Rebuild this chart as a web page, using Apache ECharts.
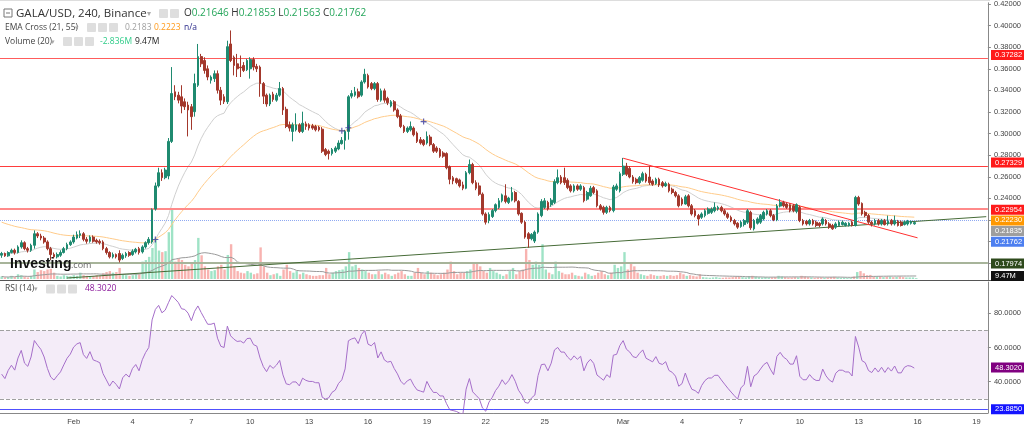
<!DOCTYPE html>
<html><head><meta charset="utf-8">
<script src="https://cdn.jsdelivr.net/npm/echarts@6/dist/echarts.min.js"></script>
<style>html,body{margin:0;padding:0;background:#fff}#c{width:1024px;height:431px}</style>
</head><body><div id="c"></div>
<script>
// ---------- DATA ----------
const firstCandleUTC = Date.UTC(2022, 0, 28, 8, 0); // first 4h candle
const slotCount = 302;                                // candle slots incl. empty future
// [open, close, low, high]
const candles = [
[0.1874,0.1890,0.1850,0.1905],[0.1890,0.1868,0.1859,0.1899],[0.1868,0.1899,0.1859,0.1911],[0.1899,0.1920,0.1890,0.1935],[0.1920,0.1899,0.1880,0.1935],
[0.1899,0.1951,0.1890,0.1966],[0.1951,0.1990,0.1935,0.2012],[0.1990,0.1935,0.1920,0.2003],[0.1935,0.1920,0.1899,0.1951],[0.1920,0.1966,0.1905,0.1981],
[0.1966,0.2073,0.1935,0.2104],[0.2073,0.2052,0.2033,0.2088],[0.2052,0.2033,0.2012,0.2073],[0.2033,0.1997,0.1981,0.2052],[0.1997,0.1935,0.1920,0.2012],
[0.1935,0.1880,0.1829,0.1951],[0.1880,0.1859,0.1844,0.1899],[0.1859,0.1880,0.1844,0.1899],[0.1874,0.1899,0.1859,0.1920],[0.1899,0.1935,0.1890,0.1951],
[0.1935,0.1972,0.1920,0.1990],[0.1972,0.1997,0.1960,0.2012],[0.1997,0.2042,0.1981,0.2064],[0.2033,0.2064,0.2021,0.2094],[0.2058,0.2073,0.2033,0.2104],
[0.2073,0.2021,0.2003,0.2088],[0.2021,0.2003,0.1981,0.2042],[0.2003,0.2042,0.1990,0.2058],[0.2042,0.2003,0.1990,0.2058],[0.2012,0.1997,0.1981,0.2027],
[0.2003,0.1990,0.1972,0.2021],[0.1997,0.1935,0.1920,0.2012],[0.1935,0.1899,0.1880,0.1951],[0.1899,0.1859,0.1844,0.1911],[0.1859,0.1880,0.1844,0.1899],
[0.1880,0.1859,0.1844,0.1890],[0.1890,0.1829,0.1807,0.1920],[0.1844,0.1874,0.1829,0.1890],[0.1868,0.1890,0.1850,0.1905],[0.1899,0.1874,0.1859,0.1911],
[0.1880,0.1911,0.1868,0.1929],[0.1905,0.1929,0.1890,0.1942],[0.1935,0.1899,0.1880,0.1951],[0.1905,0.1951,0.1890,0.1966],[0.1951,0.1990,0.1935,0.2003],
[0.1990,0.2021,0.1972,0.2042],[0.1997,0.2296,0.1981,0.2308],[0.2302,0.2516,0.2287,0.2547],[0.2516,0.2638,0.2501,0.2684],[0.2638,0.2592,0.2562,0.2669],
[0.2592,0.2663,0.2577,0.2684],[0.2608,0.2928,0.2577,0.2959],[0.2928,0.3371,0.2913,0.3616],[0.3387,0.3341,0.3310,0.3448],[0.3356,0.3310,0.3280,0.3387],
[0.3341,0.3255,0.3188,0.3448],[0.3295,0.3249,0.3219,0.3326],[0.3264,0.3219,0.2974,0.3295],[0.3249,0.3157,0.3035,0.3274],[0.3203,0.3463,0.3157,0.3555],
[0.3448,0.3713,0.3432,0.3830],[0.3713,0.3646,0.3616,0.3738],[0.3677,0.3585,0.3555,0.3707],[0.3600,0.3524,0.3494,0.3631],[0.3494,0.3524,0.3463,0.3539],
[0.3509,0.3555,0.3478,0.3585],[0.3555,0.3402,0.3371,0.3585],[0.3402,0.3310,0.3264,0.3432],[0.3341,0.3295,0.3274,0.3365],[0.3295,0.3805,0.3274,0.3860],
[0.3830,0.3677,0.3662,0.3955],[0.3707,0.3631,0.3539,0.3723],[0.3646,0.3600,0.3524,0.3738],[0.3616,0.3610,0.3524,0.3723],[0.3631,0.3585,0.3570,0.3662],
[0.3591,0.3677,0.3579,0.3692],[0.3600,0.3686,0.3509,0.3707],[0.3686,0.3616,0.3585,0.3707],[0.3622,0.3600,0.3570,0.3646],[0.3616,0.3463,0.3341,0.3631],
[0.3463,0.3347,0.3274,0.3478],[0.3356,0.3274,0.3249,0.3371],[0.3274,0.3356,0.3255,0.3371],[0.3365,0.3316,0.3295,0.3387],[0.3310,0.3356,0.3295,0.3377],
[0.3356,0.3417,0.3341,0.3478],[0.3417,0.3219,0.3173,0.3432],[0.3225,0.3066,0.3051,0.3249],[0.3081,0.3051,0.3020,0.3112],[0.3020,0.3081,0.2928,0.3102],
[0.3035,0.3081,0.3020,0.3188],[0.3081,0.3020,0.3005,0.3096],[0.3020,0.3096,0.3005,0.3203],[0.3090,0.3066,0.3035,0.3112],[0.3081,0.3051,0.3029,0.3096],
[0.3072,0.3051,0.3035,0.3090],[0.3066,0.3035,0.3020,0.3081],[0.3060,0.3035,0.3020,0.3072],[0.3041,0.2837,0.2821,0.3060],[0.2852,0.2806,0.2791,0.2867],
[0.2837,0.2815,0.2760,0.2852],[0.2815,0.2852,0.2797,0.2867],[0.2837,0.2867,0.2821,0.2883],[0.2858,0.2913,0.2846,0.2938],[0.2907,0.2938,0.2898,0.2968],
[0.2938,0.3020,0.2852,0.3035],[0.3020,0.3341,0.2944,0.3356],[0.3347,0.3371,0.3326,0.3402],[0.3356,0.3387,0.3341,0.3432],[0.3387,0.3341,0.3326,0.3417],
[0.3356,0.3478,0.3341,0.3494],[0.3478,0.3549,0.3463,0.3600],[0.3539,0.3432,0.3417,0.3555],[0.3463,0.3417,0.3402,0.3478],[0.3417,0.3463,0.3402,0.3478],
[0.3463,0.3316,0.3295,0.3478],[0.3310,0.3396,0.3295,0.3417],[0.3396,0.3310,0.3286,0.3417],[0.3326,0.3286,0.3264,0.3341],[0.3255,0.3295,0.3243,0.3310],
[0.3295,0.3219,0.3203,0.3310],[0.3219,0.3157,0.3142,0.3234],[0.3164,0.3066,0.3051,0.3182],[0.3066,0.3020,0.3005,0.3081],[0.3020,0.3051,0.3005,0.3066],
[0.3035,0.3066,0.3020,0.3112],[0.3051,0.2989,0.2974,0.3066],[0.3005,0.2928,0.2913,0.3020],[0.2944,0.2913,0.2898,0.2968],[0.2938,0.2898,0.2883,0.2950],
[0.2913,0.2974,0.2898,0.3020],[0.2968,0.2898,0.2883,0.2989],[0.2898,0.2837,0.2821,0.2913],[0.2867,0.2837,0.2821,0.2883],[0.2852,0.2791,0.2776,0.2867],
[0.2821,0.2791,0.2776,0.2837],[0.2815,0.2684,0.2669,0.2827],[0.2693,0.2577,0.2531,0.2705],[0.2592,0.2562,0.2531,0.2608],[0.2583,0.2547,0.2531,0.2592],
[0.2571,0.2516,0.2501,0.2583],[0.2525,0.2494,0.2476,0.2555],[0.2494,0.2638,0.2485,0.2653],[0.2638,0.2714,0.2623,0.2760],[0.2714,0.2546,0.2531,0.2730],
[0.2546,0.2494,0.2476,0.2568],[0.2516,0.2439,0.2424,0.2546],[0.2439,0.2256,0.2241,0.2455],[0.2256,0.2180,0.2158,0.2271],[0.2195,0.2250,0.2170,0.2271],
[0.2232,0.2287,0.2219,0.2302],[0.2287,0.2342,0.2271,0.2354],[0.2317,0.2378,0.2302,0.2403],[0.2378,0.2433,0.2363,0.2445],[0.2424,0.2372,0.2354,0.2531],
[0.2363,0.2403,0.2348,0.2415],[0.2384,0.2455,0.2372,0.2506],[0.2455,0.2378,0.2363,0.2470],[0.2372,0.2256,0.2241,0.2384],[0.2262,0.2180,0.2164,0.2271],
[0.2180,0.2042,0.2027,0.2195],[0.2073,0.2027,0.1944,0.2088],[0.2027,0.2067,0.2012,0.2079],[0.2005,0.2088,0.1987,0.2103],[0.2088,0.2256,0.2073,0.2271],
[0.2241,0.2372,0.2226,0.2393],[0.2317,0.2378,0.2302,0.2403],[0.2363,0.2302,0.2287,0.2378],[0.2342,0.2384,0.2323,0.2403],[0.2363,0.2555,0.2348,0.2577],
[0.2546,0.2592,0.2531,0.2668],[0.2598,0.2546,0.2531,0.2616],[0.2592,0.2546,0.2525,0.2684],[0.2568,0.2500,0.2485,0.2586],[0.2516,0.2470,0.2455,0.2531],
[0.2470,0.2516,0.2455,0.2531],[0.2516,0.2485,0.2470,0.2531],[0.2485,0.2516,0.2470,0.2531],[0.2500,0.2378,0.2363,0.2516],[0.2393,0.2455,0.2378,0.2470],
[0.2424,0.2494,0.2415,0.2516],[0.2500,0.2455,0.2439,0.2516],[0.2470,0.2332,0.2317,0.2485],[0.2332,0.2302,0.2287,0.2348],[0.2317,0.2271,0.2250,0.2332],
[0.2271,0.2317,0.2256,0.2332],[0.2317,0.2287,0.2271,0.2332],[0.2287,0.2506,0.2271,0.2525],[0.2485,0.2516,0.2470,0.2537],[0.2470,0.2629,0.2455,0.2647],
[0.2623,0.2699,0.2607,0.2775],[0.2699,0.2623,0.2607,0.2729],[0.2678,0.2598,0.2586,0.2699],[0.2598,0.2555,0.2537,0.2616],[0.2577,0.2546,0.2531,0.2592],
[0.2546,0.2592,0.2531,0.2607],[0.2568,0.2629,0.2555,0.2647],[0.2623,0.2561,0.2546,0.2638],[0.2598,0.2546,0.2525,0.2699],[0.2561,0.2531,0.2516,0.2577],
[0.2537,0.2577,0.2525,0.2592],[0.2577,0.2525,0.2506,0.2592],[0.2546,0.2516,0.2500,0.2561],[0.2516,0.2537,0.2506,0.2555],[0.2531,0.2470,0.2455,0.2546],
[0.2485,0.2455,0.2439,0.2500],[0.2455,0.2424,0.2409,0.2470],[0.2424,0.2332,0.2317,0.2439],[0.2393,0.2348,0.2332,0.2409],[0.2348,0.2415,0.2342,0.2433],
[0.2424,0.2332,0.2317,0.2439],[0.2332,0.2256,0.2241,0.2348],[0.2286,0.2241,0.2225,0.2302],[0.2241,0.2210,0.2149,0.2256],[0.2225,0.2256,0.2210,0.2271],
[0.2241,0.2286,0.2225,0.2302],[0.2262,0.2302,0.2250,0.2317],[0.2271,0.2302,0.2256,0.2317],[0.2286,0.2317,0.2271,0.2363],[0.2302,0.2317,0.2286,0.2332],
[0.2317,0.2286,0.2271,0.2332],[0.2286,0.2256,0.2241,0.2302],[0.2256,0.2225,0.2210,0.2271],[0.2225,0.2195,0.2180,0.2241],[0.2195,0.2164,0.2149,0.2210],
[0.2170,0.2134,0.2118,0.2180],[0.2140,0.2180,0.2128,0.2195],[0.2158,0.2195,0.2140,0.2210],[0.2180,0.2286,0.2164,0.2302],[0.2271,0.2128,0.2109,0.2286],
[0.2118,0.2195,0.2103,0.2210],[0.2170,0.2210,0.2158,0.2225],[0.2180,0.2241,0.2164,0.2256],[0.2210,0.2271,0.2195,0.2286],[0.2256,0.2286,0.2241,0.2302],
[0.2286,0.2241,0.2225,0.2302],[0.2241,0.2201,0.2189,0.2256],[0.2201,0.2329,0.2189,0.2348],[0.2329,0.2363,0.2317,0.2393],[0.2363,0.2332,0.2317,0.2378],
[0.2348,0.2317,0.2302,0.2363],[0.2342,0.2286,0.2271,0.2354],[0.2332,0.2286,0.2271,0.2348],[0.2280,0.2342,0.2262,0.2354],[0.2317,0.2195,0.2180,0.2332],
[0.2195,0.2164,0.2149,0.2210],[0.2189,0.2164,0.2149,0.2201],[0.2164,0.2195,0.2149,0.2210],[0.2195,0.2164,0.2149,0.2210],[0.2180,0.2149,0.2134,0.2195],
[0.2170,0.2149,0.2134,0.2180],[0.2164,0.2210,0.2149,0.2225],[0.2195,0.2164,0.2149,0.2210],[0.2164,0.2134,0.2118,0.2180],[0.2149,0.2118,0.2109,0.2164],
[0.2134,0.2164,0.2118,0.2180],[0.2149,0.2180,0.2140,0.2195],[0.2158,0.2180,0.2149,0.2195],[0.2149,0.2170,0.2140,0.2180],[0.2149,0.2170,0.2140,0.2180],
[0.2180,0.2149,0.2140,0.2195],[0.2149,0.2409,0.2140,0.2424],[0.2409,0.2348,0.2332,0.2424],[0.2354,0.2256,0.2241,0.2363],[0.2271,0.2241,0.2225,0.2286],
[0.2241,0.2180,0.2164,0.2256],[0.2180,0.2164,0.2140,0.2195],[0.2164,0.2195,0.2149,0.2210],[0.2195,0.2164,0.2149,0.2210],[0.2164,0.2195,0.2149,0.2210],
[0.2195,0.2158,0.2149,0.2210],[0.2164,0.2189,0.2149,0.2241],[0.2195,0.2164,0.2149,0.2210],[0.2164,0.2195,0.2149,0.2241],[0.2189,0.2149,0.2140,0.2201],
[0.2180,0.2149,0.2140,0.2195],[0.2158,0.2180,0.2149,0.2195],[0.2164,0.2189,0.2149,0.2201],[0.2170,0.2186,0.2158,0.2195],[0.21646,0.21762,0.21563,0.21853]
];
// volume, millions
const volumes = [
8,5,6,10,6,15,12,8,5,10, 30,22,28,25,30,32,20,10,8,12, 10,9,12,10,20,12,10,8,9,12, 10,18,22,25,20,22,35,15,12,10,
12,18,15,55,60,70,98,130,90,85, 88,148,221,55,65,60,45,40,50,60, 130,75,40,30,25,28,40,45,30,76, 110,40,25,20,18,25,20,15,18,100,
40,20,12,15,18,10,30,45,25,20, 25,15,20,15,12,10,10,12,12,35, 15,20,25,28,30,40,85,40,45,35, 30,25,20,15,15,25,15,20,15,10,
15,20,25,15,10,10,20,35,20,15, 25,20,15,12,15,20,30,55,25,15, 20,20,25,30,50,50,40,25,20,35, 25,20,15,10,15,25,35,15,25,30,
95,60,45,55,45,110,30,20,15,55, 25,20,15,15,20,12,10,8,20,15, 10,12,20,25,15,12,20,45,35,40, 85,30,50,40,20,15,12,10,15,12,
10,10,12,10,12,10,12,20,15,10, 12,10,8,15,6,5,4,5,6,4, 4,5,5,6,7,8,6,5,9,10, 8,6,5,6,5,5,6,10,8,6,
5,5,6,5,10,8,6,5,4,5, 5,4,5,6,7,5,4,4,3,3, 8,22,25,18,12,13,8,8,9,6, 8,8,6,7,8,6,5,5,5,2.836
];
const priceTicks = [0.18,0.20,0.22,0.24,0.26,0.28,0.30,0.32,0.34,0.36,0.38,0.40,0.42];
const rsiTicks = [40,60,80];
const levelLines = [0.37282, 0.27329, 0.22954];
const currentPrice = 0.21762;
const greenLevel = 0.17974;
const greenTrend = [[20,0.1663],[301,0.2231]];
const redTrend = [[190,0.2772],[280,0.2035]];
const emaSeeds = [0.1888, 0.2180];       // EMA21 / EMA55 values at first candle
const rsiSeeds = [0.0012, 0.0015];       // avg gain / avg loss at first candle
const rsiLevels = [70, 30];
const rsiLow = 23.885;
const tickDates = ['02-01','02-04','02-07','02-10','02-13','02-16','02-19','02-22','02-25','03-01','03-04','03-07','03-10','03-13','03-16','03-19'];
const tickTexts = ['Feb','4','7','10','13','16','19','22','25','Mar','4','7','10','13','16','19'];
const priceTags = [[0.37282,'#ff1a1a','0.37282'],[0.27329,'#ff1a1a','0.27329'],[0.22954,'#ff1a1a','0.22954'],[0.22230,'#ff9800','0.22230'],[0.21835,'#9e9e9e','0.21835'],[0.21762,'#4d7ff0','0.21762'],[0.17974,'#2e4a1c','0.17974']];
const volumeTag = [9.47,'#111111','9.47M'];
const rsiTags = [[48.302,'#800080','48.3020'],[23.885,'#1414ff','23.8850']];
const ohlcText = [['O','0.21646'],['H','0.21853'],['L','0.21563'],['C','0.21762']];

// ---------- derived ----------
const categories = [], labelMap = {};
for (let i = 0; i < slotCount; i++) {
  const d = new Date(firstCandleUTC + i * 4 * 3600e3);
  categories.push(d.toISOString().slice(0, 13));
}
tickDates.forEach((d, k) => { labelMap['2022-' + d + 'T00'] = tickTexts[k]; });
const closes = candles.map(c => c[1]);
function ema(seed, n) { const k = 2 / (n + 1); let e = seed; return closes.map((c, i) => { if (i > 0) e = e + k * (c - e); return +e.toFixed(5); }); }
const ema21 = ema(emaSeeds[0], 21), ema55 = ema(emaSeeds[1], 55);
const crosses = [];
for (let i = 1; i < closes.length; i++) if ((ema21[i] - ema55[i]) * (ema21[i-1] - ema55[i-1]) < 0) crosses.push([i, ema21[i]]);
let ag = rsiSeeds[0], al = rsiSeeds[1];
const rsi = closes.map((c, i) => { if (i > 0) { const ch = c - closes[i-1]; ag = (ag*13 + Math.max(ch,0))/14; al = (al*13 + Math.max(-ch,0))/14; } return +(100 - 100/(1+ag/al)).toFixed(2); });
const volMA = volumes.map((v, i) => { const s = volumes.slice(Math.max(0, i-19), i+1); return +(s.reduce((a,b)=>a+b,0)/s.length).toFixed(2); });
const volData = volumes.map((v, i) => ({ value: v, itemStyle: { color: candles[i][1] >= candles[i][0] ? '#9fe3c6' : '#f8b3b0' } }));

// ---------- chart ----------
const chart = echarts.init(document.getElementById('c'), null, { width: 1024, height: 431 });
const W = 990;
const showTick = (idx, val) => labelMap[val] !== undefined;
const axisFont = { fontFamily: 'Liberation Sans', fontSize: 7.5, color: '#444' };
const hl = (v, color, width, type) => ({ yAxis: v, lineStyle: { color, width, type: type || 'solid' } });

chart.setOption({
  animation: false,
  grid: [
    { left: 0, top: 0, width: W, height: 280 },
    { left: 0, top: 199, width: W, height: 80 },
    { left: 0, top: 282, width: W, height: 131 }
  ],
  xAxis: [
    { type: 'category', gridIndex: 0, data: categories, show: false },
    { type: 'category', gridIndex: 1, data: categories, show: false },
    { type: 'category', gridIndex: 2, data: categories,
      axisLine: { lineStyle: { color: '#888' } },
      axisTick: { interval: showTick, length: 3, lineStyle: { color: '#888' } },
      axisLabel: Object.assign({ interval: showTick, formatter: v => labelMap[v] || '', margin: 5 }, axisFont),
      splitLine: { show: false } }
  ],
  yAxis: [
    { type: 'value', gridIndex: 0, position: 'right', min: 0.16446, max: 0.42111, scale: true,
      axisLine: { show: true, lineStyle: { color: '#888' } },
      axisTick: { show: true, length: 3, customValues: priceTicks, lineStyle: { color: '#888' } },
      axisLabel: Object.assign({ customValues: priceTicks, formatter: v => v.toFixed(5), margin: 6 }, axisFont),
      splitLine: { show: false } },
    { type: 'value', gridIndex: 1, min: 0, max: 253, show: false, splitLine: { show: false } },
    { type: 'value', gridIndex: 2, position: 'right', min: 21.7, max: 98.3,
      axisLine: { show: true, lineStyle: { color: '#888' } },
      axisTick: { show: true, length: 3, customValues: rsiTicks, lineStyle: { color: '#888' } },
      axisLabel: Object.assign({ customValues: rsiTicks, formatter: v => v.toFixed(4), margin: 6 }, axisFont),
      splitLine: { show: false } }
  ],
  series: [
    { type: 'bar', xAxisIndex: 1, yAxisIndex: 1, data: volData, barWidth: 2.4, z: 1 },
    { type: 'line', xAxisIndex: 1, yAxisIndex: 1, data: volMA, symbol: 'none', lineStyle: { color: '#9a9a9a', width: 1 }, z: 2 },
    { type: 'line', data: ema21, symbol: 'none', lineStyle: { color: '#cfcfcf', width: 1 }, z: 3 },
    { type: 'line', data: ema55, symbol: 'none', lineStyle: { color: '#ffcb8a', width: 1 }, z: 3 },
    { type: 'candlestick', data: candles, barWidth: 2.2, z: 5,
      itemStyle: { color: '#1f8a70', color0: '#a3382c', borderColor: '#1f8a70', borderColor0: '#a3382c', borderWidth: 1 },
      markLine: { silent: true, symbol: ['none','none'], label: { show: false }, animation: false,
        lineStyle: { type: 'solid' },
        data: [
          hl(levelLines[0], '#ff5c5c', 1.2), hl(levelLines[1], '#ff3d3d', 1.2), hl(levelLines[2], '#ff8a8a', 2),
          hl(currentPrice, '#8fa9f2', 1, 'dotted'), hl(greenLevel, '#a7b49a', 2),
          [{ coord: greenTrend[0], lineStyle: { color: '#466b37', width: 1, type: 'solid' } }, { coord: greenTrend[1] }],
          [{ coord: redTrend[0], lineStyle: { color: '#ff3030', width: 1, type: 'solid' } }, { coord: redTrend[1] }]
        ] } },
    { type: 'scatter', data: crosses, symbol: 'path://M4,0H6V4H10V6H6V10H4V6H0V4H4Z', symbolSize: 6, itemStyle: { color: '#3b3b9c' }, z: 6 },
    { type: 'line', xAxisIndex: 2, yAxisIndex: 2, data: rsi, symbol: 'none', lineStyle: { color: '#a56ec9', width: 1 }, z: 4,
      markArea: { silent: true, itemStyle: { color: 'rgba(156,85,190,0.11)' }, data: [[{ yAxis: rsiLevels[1] }, { yAxis: rsiLevels[0] }]] },
      markLine: { silent: true, symbol: ['none','none'], label: { show: false },
        data: [hl(rsiLevels[0], '#a0a0a0', 1, 'dashed'), hl(rsiLevels[1], '#a0a0a0', 1, 'dashed'), hl(rsiLow, '#5050ff', 1)] } }
  ]
});

// ---------- tags & header ----------
const g = [];
function tag(y, color, text) {
  g.push({ type: 'rect', shape: { x: 991, y: y - 5, width: 33, height: 10 }, style: { fill: color }, z: 100 });
  g.push({ type: 'text', x: 995, y: y, style: { text, fill: '#fff', font: '7.5px "Liberation Sans"', verticalAlign: 'middle' }, z: 101 });
}
let prev = -100;
priceTags.map(t => [chart.convertToPixel({ yAxisIndex: 0 }, t[0]), t[1], t[2]]).sort((a,b)=>a[0]-b[0]).forEach(t => {
  let y = Math.max(t[0], prev + 10.7); prev = y; tag(y, t[1], t[2]);
});
tag(chart.convertToPixel({ yAxisIndex: 1 }, volumeTag[0]), volumeTag[1], volumeTag[2]);
rsiTags.forEach(t => tag(chart.convertToPixel({ yAxisIndex: 2 }, t[0]), t[1], t[2]));

function txt(x, y, text, color, size, weight, family) {
  g.push({ type: 'text', x, y, style: { text, fill: color, font: (weight || 'normal') + ' ' + size + 'px ' + (family || '"Open Sans"'), verticalAlign: 'middle' }, z: 50 });
}
function icons(x, y, n) {
  for (let k = 0; k < n; k++) g.push({ type: 'rect', shape: { x: x + k * 11, y: y - 4.5, width: 9, height: 9, r: 1 }, style: { fill: '#dedede' }, z: 50 });
}
g.push({ type: 'rect', shape: { x: 4, y: 9, width: 8, height: 8 }, style: { fill: 'none', stroke: '#777', lineWidth: 1 }, z: 50 });
g.push({ type: 'line', shape: { x1: 6, y1: 13, x2: 10, y2: 13 }, style: { stroke: '#777' }, z: 50 });
txt(16, 13.5, 'GALA/USD, 240, Binance', '#333', 11.5);
txt(147, 13.5, '▾', '#aaa', 8);
icons(159, 13.5, 2);
g.push({ type: 'text', x: 184, y: 13.5, z: 50, style: {
  text: ohlcText.map(o => '{k|' + o[0] + '}{v|' + o[1] + '}').join('{v| }'),
  verticalAlign: 'middle',
  rich: { k: { fill: '#333', font: '10px "Open Sans"' }, v: { fill: '#26a65b', font: '10px "Open Sans"' } } } });
txt(5, 27.5, 'EMA Cross (21, 55)', '#444', 8.5);
txt(75, 27.5, '▾', '#aaa', 7);
icons(87, 27.5, 3);
txt(125, 27.5, '0.2183', '#a0a0a0', 8.5);
txt(154, 27.5, '0.2223', '#ff9a1a', 8.5);
txt(184, 27.5, 'n/a', '#2a2a8a', 8.5);
txt(5, 41.5, 'Volume (20)', '#444', 8.5);
txt(51, 41.5, '▾', '#aaa', 7);
icons(63, 41.5, 3);
txt(100, 41.5, '-2.836M', '#2ecc88', 8.5);
txt(135, 41.5, '9.47M', '#222', 8.5);
txt(5, 289, 'RSI (14)', '#444', 8.5);
txt(34, 289, '▾', '#aaa', 7);
icons(46, 289, 3);
txt(85, 289, '48.3020', '#8b1a9b', 8.5);
txt(10, 264, 'Investing', '#111', 14, 'bold', '"Liberation Sans"');
txt(71, 265.5, '.com', '#666', 9);
g.push({ type: 'line', shape: { x1: 0, y1: 280.5, x2: 1024, y2: 280.5 }, style: { stroke: '#555', lineWidth: 1 }, z: 60 });
g.push({ type: 'line', shape: { x1: 0, y1: 0.5, x2: 990, y2: 0.5 }, style: { stroke: '#ddd', lineWidth: 1 }, z: 60 });
chart.setOption({ graphic: g });
</script></body></html>
